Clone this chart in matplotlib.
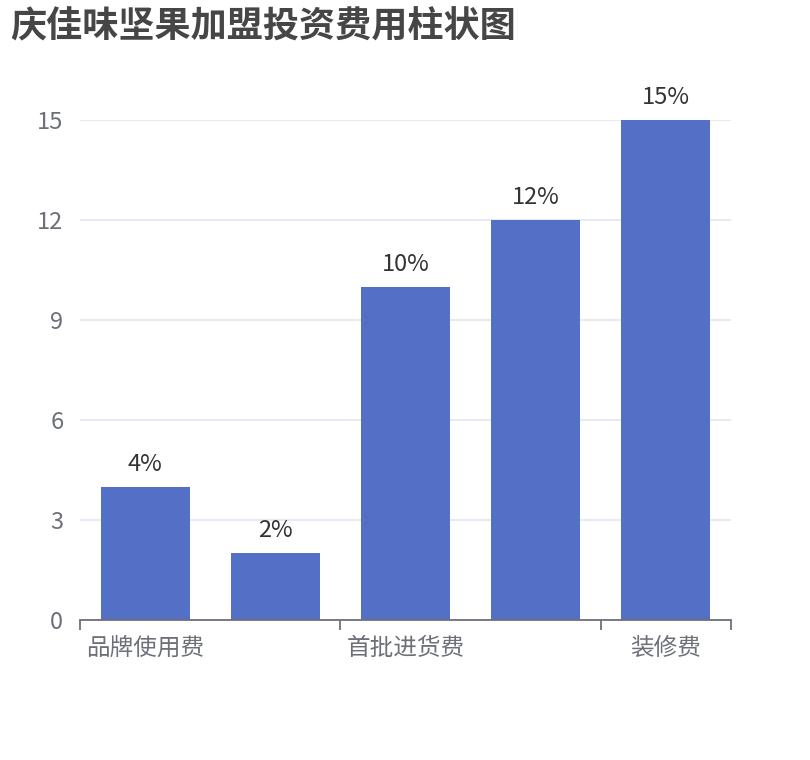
import matplotlib.pyplot as plt
from matplotlib.ticker import FixedLocator, NullFormatter

plt.rcParams['font.family'] = ['Noto Sans CJK SC', 'DejaVu Sans']

# data
categories = ['品牌使用费', '加盟费', '首批进货费', '设备费', '装修费']
values = [4, 2, 10, 12, 15]
labels = ['4%', '2%', '10%', '12%', '15%']
y_ticks = [0, 3, 6, 9, 12, 15]

fig = plt.figure(figsize=(8.1, 7.6), dpi=100)
ax = fig.add_axes([80 / 810, 1 - 620 / 760, 651 / 810, 500 / 760])

x = list(range(len(categories)))
bars = ax.bar(x, values, width=0.685, color='#5470c6', zorder=3)

for rect, lab in zip(bars, labels):
    ax.annotate(lab, (rect.get_x() + rect.get_width() / 2, rect.get_height()),
                xytext=(0, 8), textcoords='offset points',
                ha='center', va='bottom', fontsize=17, color='#333333')

ax.set_xlim(-0.5, len(categories) - 0.5)
ax.set_ylim(0, 15)

# y axis
ax.set_yticks(y_ticks)
ax.set_yticklabels([str(t) for t in y_ticks])
ax.tick_params(axis='y', length=0, pad=12, labelsize=17, labelcolor='#6e7079')
ax.grid(axis='y', color='#e0e6f1', linewidth=1.2, zorder=0)

# x axis: show every other label, ticks on band boundaries
ax.set_xticks(x[::2])
ax.set_xticklabels(categories[::2])
ax.tick_params(axis='x', length=0, pad=12, labelsize=17, labelcolor='#6e7079')
ax.xaxis.set_minor_locator(FixedLocator([-0.5, 1.5, 3.5, 4.5]))
ax.xaxis.set_minor_formatter(NullFormatter())
ax.tick_params(axis='x', which='minor', length=7, width=1.3, color='#6e7079')

for side in ['top', 'right', 'left']:
    ax.spines[side].set_visible(False)
ax.spines['bottom'].set_color('#6e7079')
ax.spines['bottom'].set_linewidth(1.3)
ax.spines['bottom'].set_zorder(4)

fig.text(10 / 810, 1 - 27 / 760, '庆佳味坚果加盟投资费用柱状图', fontsize=26,
         fontweight='bold', color='#464646', ha='left', va='center')

fig.savefig('out.png', dpi=100)
